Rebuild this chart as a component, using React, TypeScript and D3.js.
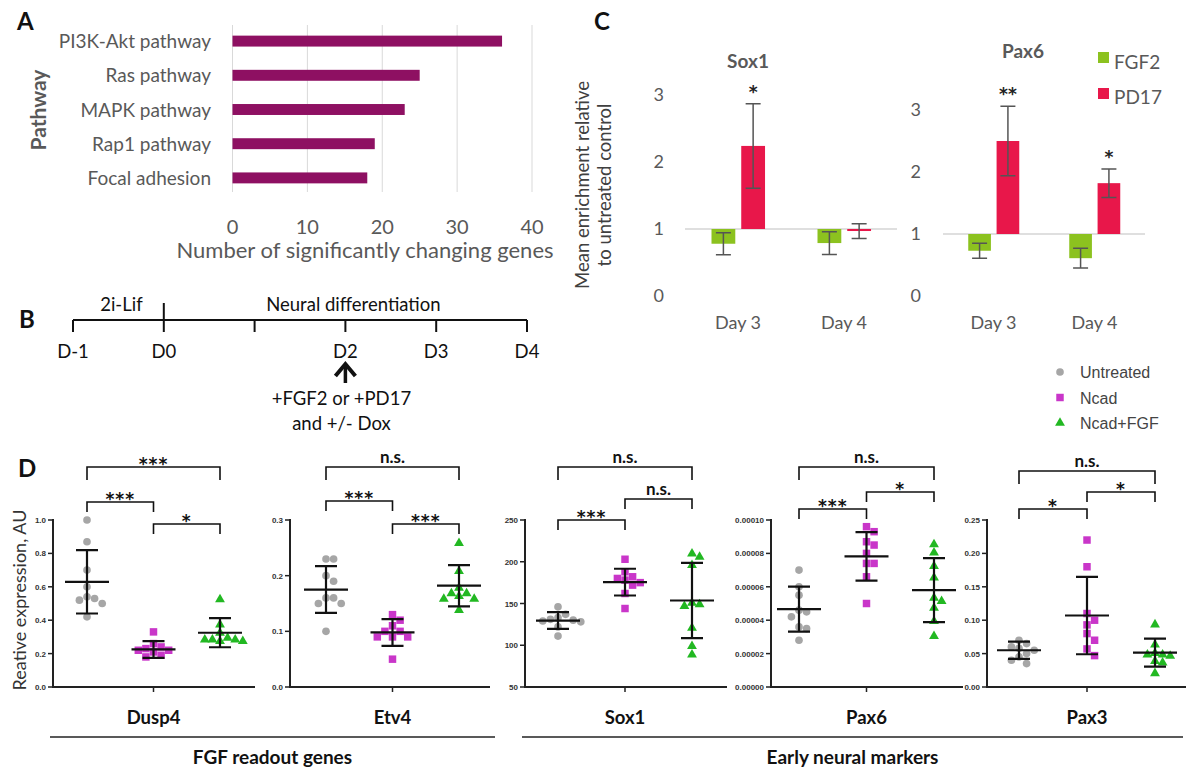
import React, { useEffect, useRef } from 'react';
import * as d3 from 'd3';

// ---------- Panel A: pathways with significantly changing genes
const pathways = ['PI3K-Akt pathway', 'Ras pathway', 'MAPK pathway', 'Rap1 pathway', 'Focal adhesion'];
const pathwayGeneCounts = [36, 25, 23, 19, 18];
const pathwayTicks = [0, 10, 20, 30, 40];

// ---------- Panel B: timeline
const timelineLabels = ['D-1', 'D0', '', 'D2', 'D3', 'D4'];
const timelinePhases = ['2i-Lif', 'Neural differentiation'];
const timelinePhaseBounds = [[0, 1], [1, 5]];
const treatmentDay = 3;
const treatmentNote = ['+FGF2 or +PD17', 'and +/- Dox'];

// ---------- Panel C: enrichment relative to untreated
const enrichDays = ['Day 3', 'Day 4'];
const enrichTreatments = ['FGF2', 'PD17'];
const enrichTicks = [0, 1, 2, 3];
const sox1Fgf2 = [0.78, 0.79];
const sox1Fgf2Err = [0.165, 0.17];
const sox1Pd17 = [2.24, 0.97];
const sox1Pd17Err = [0.63, 0.11];
const sox1Stars = ['*', ''];
const pax6Fgf2 = [0.73, 0.61];
const pax6Fgf2Err = [0.12, 0.16];
const pax6Pd17 = [2.5, 1.82];
const pax6Pd17Err = [0.56, 0.23];
const pax6Stars = ['**', '*'];

// ---------- Panel D: relative expression
const groups = ['Untreated', 'Ncad', 'Ncad+FGF'];

const dusp4Points = [
  [1.0, 0.87, 0.7, 0.6, 0.54, 0.52, 0.5, 0.53, 0.42],
  [0.33, 0.26, 0.24, 0.23, 0.22, 0.22, 0.21, 0.19, 0.18],
  [0.53, 0.38, 0.33, 0.29, 0.28, 0.28, 0.29, 0.29, 0.3],
];
const dusp4Mean = [0.63, 0.225, 0.325];
const dusp4Sd = [0.19, 0.05, 0.087];
const dusp4Ticks = [0, 0.2, 0.4, 0.6, 0.8, 1.0];
const dusp4TickLabels = ['0.0', '0.2', '0.4', '0.6', '0.8', '1.0'];
const dusp4Sig = ['***', '*', '***'];

const etv4Points = [
  [0.23, 0.23, 0.2, 0.19, 0.16, 0.16, 0.15, 0.15, 0.1],
  [0.13, 0.12, 0.11, 0.1, 0.1, 0.09, 0.09, 0.09, 0.05],
  [0.26, 0.21, 0.18, 0.17, 0.165, 0.17, 0.16, 0.16, 0.14],
];
const etv4Mean = [0.175, 0.098, 0.182];
const etv4Sd = [0.042, 0.024, 0.037];
const etv4Ticks = [0, 0.1, 0.2, 0.3];
const etv4TickLabels = ['0.0', '0.1', '0.2', '0.3'];
const etv4Sig = ['***', '***', 'n.s.'];

const sox1Points = [
  [146, 137, 133, 131, 130, 129, 128, 122, 111],
  [203, 188, 182, 180, 178, 175, 172, 162, 144],
  [211, 207, 197, 152, 150, 148, 122, 100, 90],
];
const sox1Mean = [129.6, 175.6, 153.6];
const sox1Sd = [10, 16, 45];
const sox1Ticks = [50, 100, 150, 200, 250];
const sox1TickLabels = ['50', '100', '150', '200', '250'];
const sox1Sig = ['***', 'n.s.', 'n.s.'];

const pax6Points = [
  [7.0e-5, 6.0e-5, 5.5e-5, 4.6e-5, 4.5e-5, 4.2e-5, 3.6e-5, 3.5e-5, 2.8e-5],
  [9.6e-5, 9.3e-5, 8.7e-5, 8.5e-5, 8.0e-5, 7.4e-5, 7.4e-5, 6.6e-5, 5.0e-5],
  [8.6e-5, 8.1e-5, 7.3e-5, 6.6e-5, 5.4e-5, 5.2e-5, 4.8e-5, 4.0e-5, 3.1e-5],
];
const pax6Mean = [4.66e-5, 7.82e-5, 5.8e-5];
const pax6Sd = [1.35e-5, 1.45e-5, 1.92e-5];
const pax6Ticks = [0, 2e-5, 4e-5, 6e-5, 8e-5, 1e-4];
const pax6TickLabels = ['0.00000', '0.00002', '0.00004', '0.00006', '0.00008', '0.00010'];
const pax6Sig = ['***', '*', 'n.s.'];

const pax3Points = [
  [0.07, 0.065, 0.06, 0.058, 0.055, 0.05, 0.045, 0.04, 0.035],
  [0.22, 0.18, 0.11, 0.1, 0.093, 0.08, 0.07, 0.057, 0.047],
  [0.095, 0.065, 0.052, 0.05, 0.05, 0.048, 0.04, 0.038, 0.022],
];
const pax3Mean = [0.055, 0.107, 0.0515];
const pax3Sd = [0.013, 0.058, 0.021];
const pax3Ticks = [0, 0.05, 0.1, 0.15, 0.2, 0.25];
const pax3TickLabels = ['0.00', '0.05', '0.10', '0.15', '0.20', '0.25'];
const pax3Sig = ['*', '*', 'n.s.'];

const geneNames = ['Dusp4', 'Etv4', 'Sox1', 'Pax6', 'Pax3'];
const geneClasses = ['FGF readout genes', 'Early neural markers'];

const W = 1188;
const H = 769;
const FONT = 'Lato, "Open Sans", sans-serif';
const STAR_FONT = '"DejaVu Sans", sans-serif';
const GREY_TEXT = '#595959';
const GREEN = '#8cc21f';
const RED = '#e8174a';
const GROUP_COLORS = ['#a6a6a6', '#c936c9', '#22b822'];

function panelLetter(svg: any, letter: string, x: number, y: number) {
  svg.append('text').attr('x', x).attr('y', y).attr('font-size', 24).attr('font-weight', 700)
    .attr('font-family', FONT).attr('fill', '#111').text(letter);
}

function drawA(svg: any) {
  const g = svg.append('g').attr('font-family', FONT);
  const x = d3.scaleLinear().domain([0, 40]).range([232.5, 532]);
  const y = d3.scaleBand().domain(pathways).range([24, 195]).paddingInner(0.68).paddingOuter(0.34);

  g.append('g').selectAll('line').data(pathwayTicks).join('line')
    .attr('x1', (d: number) => x(d)).attr('x2', (d: number) => x(d))
    .attr('y1', 25).attr('y2', 192).attr('stroke', '#d9d9d9').attr('stroke-width', 1);

  g.append('g').selectAll('rect').data(pathways).join('rect')
    .attr('x', x(0)).attr('y', (d: string) => y(d))
    .attr('width', (_: string, i: number) => x(pathwayGeneCounts[i]) - x(0))
    .attr('height', y.bandwidth()).attr('fill', '#8e1062');

  g.append('g').selectAll('text').data(pathways).join('text')
    .attr('x', 211).attr('y', (d: string) => (y(d) as number) + y.bandwidth() / 2 + 7)
    .attr('text-anchor', 'end').attr('font-size', 19).attr('fill', GREY_TEXT).text((d: string) => d);

  g.append('g').selectAll('text').data(pathwayTicks).join('text')
    .attr('x', (d: number) => x(d)).attr('y', 234).attr('text-anchor', 'middle')
    .attr('font-size', 20).attr('fill', GREY_TEXT).text((d: number) => d);

  g.append('text').attr('x', 365).attr('y', 258).attr('text-anchor', 'middle')
    .attr('font-size', 22).attr('fill', GREY_TEXT).text('Number of significantly changing genes');

  g.append('text').attr('transform', 'translate(46,110) rotate(-90)').attr('text-anchor', 'middle')
    .attr('font-size', 21).attr('font-weight', 700).attr('fill', GREY_TEXT).text('Pathway');

  panelLetter(svg, 'A', 17, 30);
}

function drawB(svg: any) {
  const g = svg.append('g').attr('font-family', FONT).attr('fill', '#111');
  const x = d3.scalePoint().domain(timelineLabels.map((_, i) => String(i))).range([73, 527]);
  const lineY = 320;
  g.append('line').attr('x1', x('0')).attr('x2', x(String(timelineLabels.length - 1)))
    .attr('y1', lineY).attr('y2', lineY).attr('stroke', '#111').attr('stroke-width', 2);
  timelineLabels.forEach((lab, i) => {
    const xi = x(String(i)) as number;
    g.append('line').attr('x1', xi).attr('x2', xi).attr('y1', i === 1 ? 303 : lineY).attr('y2', 332)
      .attr('stroke', '#111').attr('stroke-width', 2);
    if (lab) {
      g.append('text').attr('x', xi).attr('y', 358).attr('text-anchor', 'middle').attr('font-size', 18.5).text(lab);
    }
  });
  timelinePhases.forEach((p, i) => {
    const [a, b] = timelinePhaseBounds[i];
    const cx = ((x(String(a)) as number) + (x(String(b)) as number)) / 2 + (i === 1 ? 8 : 3);
    g.append('text').attr('x', cx).attr('y', 311).attr('text-anchor', 'middle').attr('font-size', 18.5).text(p);
  });
  const ax = x(String(treatmentDay)) as number;
  g.append('line').attr('x1', ax).attr('x2', ax).attr('y1', 383).attr('y2', 366)
    .attr('stroke', '#111').attr('stroke-width', 3.5);
  g.append('path').attr('d', `M${ax - 10},${376} L${ax},${364} L${ax + 10},${376}`)
    .attr('fill', 'none').attr('stroke', '#111').attr('stroke-width', 4).attr('stroke-linejoin', 'miter');
  treatmentNote.forEach((t, i) => {
    g.append('text').attr('x', ax - 4).attr('y', 405 + i * 25).attr('text-anchor', 'middle').attr('font-size', 18.5).text(t);
  });
  panelLetter(svg, 'B', 19, 328);
}

function drawEnrichment(svg: any, title: string, fgf: number[], fgfErr: number[], pd: number[], pdErr: number[],
  stars: string[], lay: { x0: number; x1: number; y0: number; y3: number; labelX: number; titleX: number; titleY: number }) {
  const g = svg.append('g').attr('font-family', FONT);
  const x = d3.scaleBand().domain(enrichDays).range([lay.x0, lay.x1]);
  const bw = x.bandwidth();
  const sub = d3.scaleBand().domain(enrichTreatments).range([bw * 0.25, bw * 0.755]).paddingInner(0.2);
  const y = d3.scaleLinear().domain([0, 3]).range([lay.y0, lay.y3]);

  g.append('line').attr('x1', lay.x0).attr('x2', lay.x1).attr('y1', y(1)).attr('y2', y(1))
    .attr('stroke', '#d4d4d4').attr('stroke-width', 1.5);

  g.append('g').selectAll('text').data(enrichTicks).join('text')
    .attr('x', lay.labelX).attr('y', (d: number) => y(d) + 6).attr('text-anchor', 'end')
    .attr('font-size', 18).attr('fill', GREY_TEXT).text((d: number) => d);

  g.append('g').selectAll('text').data(enrichDays).join('text')
    .attr('x', (d: string) => (x(d) as number) + bw / 2).attr('y', 329).attr('text-anchor', 'middle')
    .attr('font-size', 18).attr('fill', GREY_TEXT).text((d: string) => d);

  g.append('text').attr('x', lay.titleX).attr('y', lay.titleY).attr('text-anchor', 'middle')
    .attr('font-size', 19).attr('font-weight', 700).attr('fill', GREY_TEXT).text(title);

  const series = [
    { t: 'FGF2', vals: fgf, errs: fgfErr, color: GREEN },
    { t: 'PD17', vals: pd, errs: pdErr, color: RED },
  ];
  series.forEach((s) => {
    enrichDays.forEach((day, i) => {
      const bx = (x(day) as number) + (sub(s.t) as number);
      const v = s.vals[i];
      const top = Math.min(y(v), y(1));
      const h = Math.max(Math.abs(y(v) - y(1)), 2);
      g.append('rect').attr('x', bx).attr('y', top).attr('width', sub.bandwidth()).attr('height', h).attr('fill', s.color);
      const cx = bx + sub.bandwidth() / 2;
      const e1 = y(v + s.errs[i]);
      const e0 = y(v - s.errs[i]);
      g.append('path').attr('d', `M${cx},${e1}V${e0}M${cx - 7.5},${e1}H${cx + 7.5}M${cx - 7.5},${e0}H${cx + 7.5}`)
        .attr('stroke', '#555').attr('stroke-width', 1.5).attr('fill', 'none');
      if (s.t === 'PD17' && stars[i]) {
        g.append('text').attr('x', cx).attr('y', e1 - 6).attr('text-anchor', 'middle').attr('font-size', 17)
          .attr('font-family', STAR_FONT).attr('font-weight', 700).attr('fill', '#222').text(stars[i]);
      }
    });
  });
}

function drawC(svg: any) {
  drawEnrichment(svg, 'Sox1', sox1Fgf2, sox1Fgf2Err, sox1Pd17, sox1Pd17Err, sox1Stars,
    { x0: 685, x1: 897, y0: 296, y3: 95, labelX: 664, titleX: 748, titleY: 68 });
  drawEnrichment(svg, 'Pax6', pax6Fgf2, pax6Fgf2Err, pax6Pd17, pax6Pd17Err, pax6Stars,
    { x0: 943, x1: 1145, y0: 296, y3: 110, labelX: 921, titleX: 1023, titleY: 58 });

  const g = svg.append('g').attr('font-family', FONT);
  [GREEN, RED].forEach((c, i) => {
    g.append('rect').attr('x', 1098).attr('y', 52 + i * 36).attr('width', 11).attr('height', 11).attr('fill', c);
    g.append('text').attr('x', 1114).attr('y', 69 + i * 35).attr('font-size', 19).attr('fill', GREY_TEXT).text(enrichTreatments[i]);
  });
  g.append('text').attr('transform', 'translate(589,185) rotate(-90)').attr('text-anchor', 'middle')
    .attr('font-size', 18.5).attr('fill', '#404040').text('Mean enrichment relative');
  g.append('text').attr('transform', 'translate(611,185) rotate(-90)').attr('text-anchor', 'middle')
    .attr('font-size', 18.5).attr('fill', '#404040').text('to untreated control');
  panelLetter(svg, 'C', 594, 30);
}

// place points side by side where they would overlap (column scatter)
function swarm(vals: number[], y: (v: number) => number, d: number): number[] {
  const order = d3.range(vals.length).sort((a, b) => vals[b] - vals[a]);
  const placed: { x: number; y: number }[] = [];
  const off = vals.map(() => 0);
  for (const i of order) {
    const yy = y(vals[i]);
    for (let k = 0; k < 30; k++) {
      const step = Math.ceil(k / 2) * d;
      const cand = k === 0 ? 0 : k % 2 === 1 ? step : -step;
      if (placed.every((p) => Math.hypot(p.x - cand, p.y - yy) >= d)) {
        off[i] = cand;
        placed.push({ x: cand, y: yy });
        break;
      }
    }
  }
  return off;
}

const dAxisX = [53, 290, 525, 771, 987];
const dAxisEnd = [255, 490, 727, 963, 1186];
const dGroupRange = [[87, 220], [326, 459], [558, 692], [799, 934], [1019, 1155]];
const dBracketY = [[502, 524, 467], [501, 524, 467], [520, 499, 467], [509, 492, 467], [509, 492, 471]];

function drawD(svg: any) {
  const genes = [
    { pts: dusp4Points, mean: dusp4Mean, sd: dusp4Sd, ticks: dusp4Ticks, labels: dusp4TickLabels, sig: dusp4Sig },
    { pts: etv4Points, mean: etv4Mean, sd: etv4Sd, ticks: etv4Ticks, labels: etv4TickLabels, sig: etv4Sig },
    { pts: sox1Points, mean: sox1Mean, sd: sox1Sd, ticks: sox1Ticks, labels: sox1TickLabels, sig: sox1Sig },
    { pts: pax6Points, mean: pax6Mean, sd: pax6Sd, ticks: pax6Ticks, labels: pax6TickLabels, sig: pax6Sig },
    { pts: pax3Points, mean: pax3Mean, sd: pax3Sd, ticks: pax3Ticks, labels: pax3TickLabels, sig: pax3Sig },
  ];
  const symbols = [d3.symbolCircle, d3.symbolSquare, d3.symbolTriangle];
  const symSize = [46, 56, 42];

  genes.forEach((gd, gi) => {
    const g = svg.append('g').attr('font-family', FONT);
    const ax = dAxisX[gi];
    const y = d3.scaleLinear().domain([gd.ticks[0], gd.ticks[gd.ticks.length - 1]]).range([687, 520]);
    const x = d3.scalePoint().domain(groups).range(dGroupRange[gi] as [number, number]);

    // axes
    g.append('line').attr('x1', ax).attr('x2', ax).attr('y1', 519).attr('y2', 688).attr('stroke', '#222').attr('stroke-width', 2);
    g.append('line').attr('x1', ax - 1).attr('x2', dAxisEnd[gi]).attr('y1', 687).attr('y2', 687).attr('stroke', '#222').attr('stroke-width', 2);
    g.append('g').selectAll('line').data(gd.ticks).join('line')
      .attr('x1', ax - 5).attr('x2', ax).attr('y1', (d: number) => y(d)).attr('y2', (d: number) => y(d))
      .attr('stroke', '#222').attr('stroke-width', 1.5);
    g.append('g').selectAll('text').data(gd.ticks).join('text')
      .attr('x', ax - 7).attr('y', (d: number) => y(d) + 3).attr('text-anchor', 'end')
      .attr('font-family', '"Liberation Sans", Arial, sans-serif').attr('font-size', 8).attr('font-weight', 700)
      .attr('fill', '#333').text((_: number, i: number) => gd.labels[i]);
    const mx = x('Ncad') as number;
    g.append('line').attr('x1', mx).attr('x2', mx).attr('y1', 687).attr('y2', 692).attr('stroke', '#222').attr('stroke-width', 1.5);
    g.append('text').attr('x', mx).attr('y', 724).attr('text-anchor', 'middle').attr('font-size', 18.5)
      .attr('font-weight', 700).attr('fill', '#111').text(geneNames[gi]);

    // points
    groups.forEach((grp, k) => {
      const gx = x(grp) as number;
      const vals = gd.pts[k];
      const off = swarm(vals, y, 7.6);
      g.append('g').selectAll('path').data(vals).join('path')
        .attr('d', d3.symbol().type(symbols[k]).size(symSize[k]))
        .attr('transform', (d: number, i: number) => `translate(${gx + off[i]},${y(d) + (k === 2 ? 1 : 0)})`)
        .attr('fill', GROUP_COLORS[k]);
      const m = gd.mean[k];
      const s = gd.sd[k];
      g.append('path')
        .attr('d', `M${gx - 22},${y(m)}H${gx + 22}M${gx},${y(m + s)}V${y(m - s)}M${gx - 11},${y(m + s)}H${gx + 11}M${gx - 11},${y(m - s)}H${gx + 11}`)
        .attr('stroke', '#111').attr('stroke-width', 2.2).attr('fill', 'none');
    });

    // significance brackets
    const pairs = [[0, 1], [1, 2], [0, 2]];
    pairs.forEach(([a, b], pi) => {
      const x1 = x(groups[a]) as number;
      const x2 = x(groups[b]) as number;
      const by = dBracketY[gi][pi];
      const tip = pi === 2 ? 13 : 10;
      g.append('path').attr('d', `M${x1},${by + tip}V${by}H${x2}V${by + tip}`)
        .attr('stroke', '#111').attr('stroke-width', 1.6).attr('fill', 'none');
      const lab = gd.sig[pi];
      const isStar = lab.includes('*');
      g.append('text').attr('x', (x1 + x2) / 2).attr('y', isStar ? by + 3 : by - 4).attr('text-anchor', 'middle')
        .attr('font-family', isStar ? STAR_FONT : FONT)
        .attr('font-size', isStar ? 17 : 17).attr('font-weight', 700).attr('letter-spacing', isStar ? 1 : 0)
        .attr('fill', '#111').text(lab);
    });
  });

  const g = svg.append('g').attr('font-family', FONT);
  // class underlines
  const classSpan = [[50, 495], [522, 1183]];
  geneClasses.forEach((c, i) => {
    const [a, b] = classSpan[i];
    g.append('line').attr('x1', a).attr('x2', b).attr('y1', 737).attr('y2', 737).attr('stroke', '#222').attr('stroke-width', 1.6);
    g.append('text').attr('x', (a + b) / 2).attr('y', 764).attr('text-anchor', 'middle').attr('font-size', 19)
      .attr('font-weight', 700).attr('fill', '#111').text(c);
  });
  g.append('text').attr('transform', 'translate(26,600) rotate(-90)').attr('text-anchor', 'middle')
    .attr('font-size', 18).attr('fill', '#333').text('Reative expression, AU');

  // legend
  const lg = svg.append('g').attr('font-family', '"Liberation Sans", Arial, sans-serif');
  groups.forEach((grp, k) => {
    const ly = 372 + k * 25.5;
    lg.append('path').attr('d', d3.symbol().type(symbols[k]).size(symSize[k])).attr('transform', `translate(1060,${ly})`)
      .attr('fill', GROUP_COLORS[k]);
    lg.append('text').attr('x', 1080).attr('y', ly + 6).attr('font-size', 16).attr('fill', '#444').text(grp);
  });

  panelLetter(svg, 'D', 18, 477);
}

export default function App() {
  const ref = useRef<SVGSVGElement>(null);
  useEffect(() => {
    if (!ref.current) return;
    const svg = d3.select(ref.current);
    svg.selectAll('*').remove();
    svg.append('rect').attr('width', W).attr('height', H).attr('fill', '#fff');
    drawA(svg);
    drawB(svg);
    drawC(svg);
    drawD(svg);
  }, []);
  return (
    <svg ref={ref} width={W} height={H} style={{ position: 'absolute', left: 0, top: 0 }} />
  );
}
